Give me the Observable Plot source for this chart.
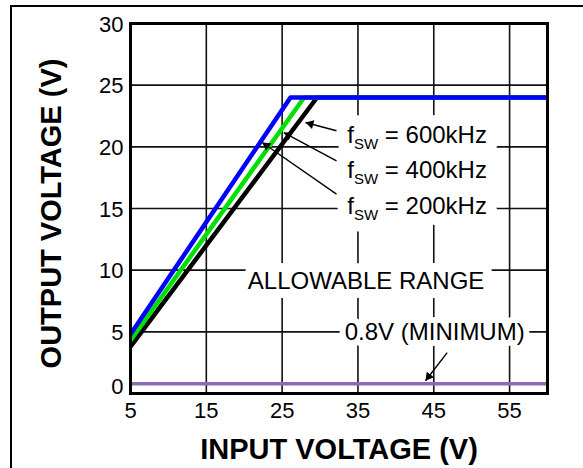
<!DOCTYPE html>
<html>
<head>
<meta charset="utf-8">
<script src="https://cdn.jsdelivr.net/npm/d3@7"></script>
<script src="https://cdn.jsdelivr.net/npm/@observablehq/plot@0.6"></script>
<style>
  html, body { margin: 0; padding: 0; background: #fff; }
  #wrap { position: relative; width: 583px; height: 468px; overflow: hidden; }
  #border { position: absolute; left: 10px; top: 5px; right: -5px; bottom: -5px;
            border-left: 2px solid #000; border-top: 2px solid #000; }
  #chart { position: absolute; left: 0; top: 0; }
</style>
</head>
<body>
<div id="wrap"><div id="border"></div><div id="chart"></div></div>
<script>
// ---- Data ----
const xTicks = [5, 15, 25, 35, 45, 55];
const yTicks = [5, 10, 15, 20, 25, 30];
const yZeroTick = [0];
const gridXValues = [15, 25, 35, 45, 55];
const gridYValues = [5, 10, 15, 20, 25];

// input voltage / output voltage for each switching frequency
const vin600 = [5, 26.1, 60];
const vout600 = [4.8, 24, 24];
const vin400 = [5, 27.9, 60];
const vout400 = [4.3, 24, 24];
const vin200 = [5, 29.6, 60];
const vout200 = [3.8, 24, 24];
const minimumOutput = [0.8];

// annotations (data units)
const freqLabels = ["600kHz", "400kHz", "200kHz"];
const freqLabelX = [33.6, 33.6, 33.6];
const freqLabelY = [20.35, 17.47, 14.55];
const freqTailX = [32.17, 32.17, 32.17];
const freqTailY = [21.30, 18.87, 16.17];
const freqTipX = [28.08, 25.22, 22.37];
const freqTipY = [21.97, 21.16, 20.35];
const rangeLabel = ["ALLOWABLE RANGE"];
const rangeLabelX = [20.47];
const rangeLabelY = [8.51];
const minLabel = ["0.8V (MINIMUM)"];
const minLabelX = [33.25];
const minLabelY = [4.33];
const minTailX = [46.77];
const minTailY = [3.32];
const minTipX = [43.91];
const minTipY = [1.03];

// ---- Build tables ----
const toSeries = (xs, ys, name) => xs.map((x, i) => ({x, y: ys[i], name}));
const s200 = toSeries(vin200, vout200, "200");
const s400 = toSeries(vin400, vout400, "400");
const s600 = toSeries(vin600, vout600, "600");

const freqAnn = freqLabels.map((f, i) => ({
  text: "fSW = " + f, x: freqLabelX[i], y: freqLabelY[i],
  x1: freqTailX[i], y1: freqTailY[i], x2: freqTipX[i], y2: freqTipY[i]
}));
const rangeAnn = rangeLabel.map((t, i) => ({text: t, x: rangeLabelX[i], y: rangeLabelY[i]}));
const minAnn = minLabel.map((t, i) => ({text: t, x: minLabelX[i], y: minLabelY[i]}));
const minArrow = minTailX.map((x, i) => ({x1: x, y1: minTailY[i], x2: minTipX[i], y2: minTipY[i]}));
const arrows = [...freqAnn, ...minArrow];

// layout
const W = 583, H = 468, mL = 130, mR = 36, mT = 23, mB = 75;
const xDom = [5, 60], yDom = [0, 30];
const kx = (W - mL - mR) / (xDom[1] - xDom[0]);
const ky = (H - mT - mB) / (yDom[1] - yDom[0]);
const headR = 3.4;
const tipOff = 2 * 0.7776 * headR;
const heads = arrows.map(a => {
  const dxp = (a.x2 - a.x1) * kx, dyp = -(a.y2 - a.y1) * ky;
  const L = Math.hypot(dxp, dyp);
  return {
    x: a.x2 - (tipOff * dxp / L) / kx,
    y: a.y2 + (tipOff * dyp / L) / ky,
    rot: Math.atan2(dxp, -dyp) * 180 / Math.PI
  };
});

const FONT = "'Liberation Sans', Arial, Helvetica, sans-serif";
const annFont = 24;
const textOpts = {x: "x", y: "y", text: "text", textAnchor: "start", lineAnchor: "bottom", fontSize: annFont};
const halo = w => ({...textOpts, fill: "#fff", stroke: "#fff", strokeWidth: w, strokeLinejoin: "round"});
const ink = {...textOpts, fill: "#000"};

const chart = Plot.plot({
  width: W, height: H,
  marginLeft: mL, marginRight: mR, marginTop: mT, marginBottom: mB,
  style: {fontFamily: FONT, fontSize: "22px", color: "#000", background: "transparent", overflow: "visible"},
  x: {domain: xDom, label: null},
  y: {domain: yDom, label: null},
  marks: [
    Plot.gridX(gridXValues, {stroke: "#111", strokeOpacity: 1, strokeWidth: 1.6}),
    Plot.gridY(gridYValues, {stroke: "#111", strokeOpacity: 1, strokeWidth: 1.6}),
    Plot.ruleY(minimumOutput, {stroke: "#8a6cb0", strokeWidth: 3.5}),
    Plot.line(s200, {x: "x", y: "y", stroke: "#000", strokeWidth: 4.5, strokeLinejoin: "round", clip: true}),
    Plot.line(s400, {x: "x", y: "y", stroke: "#00e000", strokeWidth: 4.5, strokeLinejoin: "round", clip: true}),
    Plot.line(s600, {x: "x", y: "y", stroke: "#0000ff", strokeWidth: 4.5, strokeLinejoin: "round", clip: true}),
    Plot.frame({stroke: "#000", strokeWidth: 3}),
    Plot.axisX(xTicks, {tickSize: 0, tickPadding: 9, label: null}),
    Plot.axisY(yTicks, {tickSize: 0, tickPadding: 7, dy: 1, label: null}),
    Plot.axisY(yZeroTick, {tickSize: 0, tickPadding: 7, dy: -7, label: null}),
    Plot.text(["INPUT VOLTAGE (V)"], {frameAnchor: "bottom", dy: 65, lineAnchor: "bottom", textAnchor: "middle",
      fontSize: 29, fontWeight: "bold", fill: "#000"}),
    Plot.text(["OUTPUT VOLTAGE (V)"], {frameAnchor: "left", rotate: -90, dx: -70, dy: 5, lineAnchor: "bottom", textAnchor: "middle",
      fontSize: 29, fontWeight: "bold", fill: "#000"}),
    // white halos (gaps in grid lines) then ink
    Plot.text(freqAnn, halo(23)),
    Plot.text(rangeAnn, halo(18)),
    Plot.text(minAnn, halo(12)),
    Plot.text(freqAnn, ink),
    Plot.text(rangeAnn, ink),
    Plot.text(minAnn, ink),
    Plot.link(arrows, {x1: "x1", y1: "y1", x2: "x2", y2: "y2", stroke: "#000", strokeWidth: 1.4}),
    Plot.dot(heads, {x: "x", y: "y", symbol: "triangle", r: headR, rotate: "rot", fill: "#000", stroke: "none"})
  ]
});

// subscript "SW" in f_SW labels
d3.select(chart).selectAll("text").each(function () {
  const t = this.textContent;
  if (t.startsWith("fSW = ")) {
    const sel = d3.select(this);
    sel.text(null);
    sel.attr("xml:space", "preserve");
    sel.append("tspan").text("f");
    sel.append("tspan").attr("font-size", 15).attr("dy", 6).text("SW");
    sel.append("tspan").attr("dy", -6).text(" = " + t.slice(6));
  }
});

document.getElementById("chart").appendChild(chart);
</script>
</body>
</html>
